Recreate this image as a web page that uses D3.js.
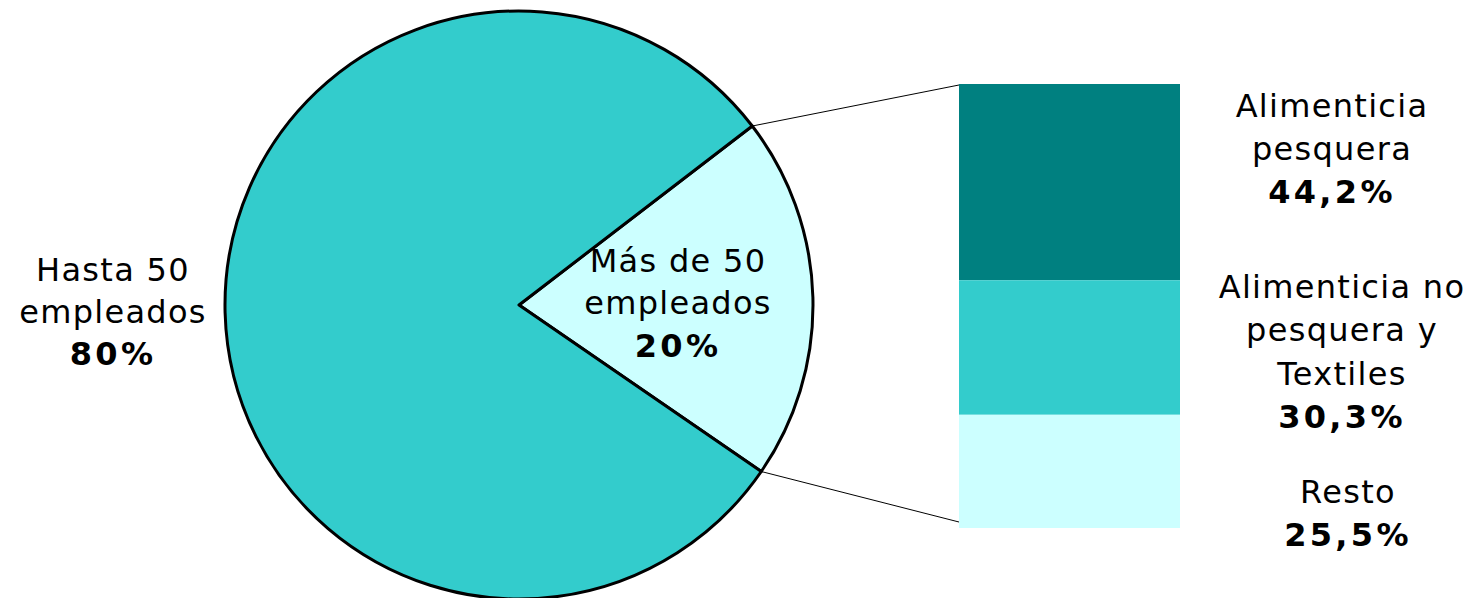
<!DOCTYPE html>
<html>
<head>
<meta charset="utf-8">
<style>
  html, body { margin: 0; padding: 0; background: #fff; }
  svg text { font-family: "DejaVu Sans", Verdana, sans-serif; font-size: 32px; letter-spacing: 1.3px; fill: #000; }
</style>
</head>
<body>
<svg width="1468" height="598"></svg>
<script src="https://d3js.org/d3.v7.min.js"></script>
<script>

    // pie: companies by size
    var pieNames = ["Más de 50 empleados", "Hasta 50 empleados"];
    var pieValues = [20, 80];
    var pieLabels = [["Más de 50", "empleados", "20%"], ["Hasta 50", "empleados", "80%"]];

    // bar: breakdown of the "Más de 50" slice
    var barNames = ["Alimenticia pesquera", "Alimenticia no pesquera y Textiles", "Resto"];
    var barValues = [44.2, 30.3, 25.5];
    var barLabels = [["Alimenticia", "pesquera", "44,2%"], ["Alimenticia no", "pesquera y", "Textiles", "30,3%"], ["Resto", "25,5%"]];

    var pieColors = ["#CCFFFF", "#33CCCC"];
    var barColors = ["#008080", "#33CCCC", "#CCFFFF"];

    var svg = d3.select("svg");

    var cx = 519, cy = 305, radius = 294;
    var a0 = 52.5 * Math.PI / 180;

    var pie = d3.pie()
        .sort(null)
        .startAngle(a0)
        .endAngle(a0 + 2 * Math.PI);

    var arc = d3.arc().innerRadius(0).outerRadius(radius);

    var arcs = pie(pieValues);

    var g = svg.append("g").attr("transform", "translate(" + cx + "," + cy + ")");

    g.selectAll("path")
        .data(arcs)
        .enter().append("path")
        .attr("d", arc)
        .attr("fill", function(d, i) { return pieColors[i]; })
        .attr("stroke", "#000")
        .attr("stroke-width", 3)
        .attr("stroke-linejoin", "round");

    // stacked bar
    var barX = 959, barW = 221;
    var total = d3.sum(barValues);
    var y = d3.scaleLinear().domain([0, total]).range([84, 528]);
    var cum = 0;
    var stack = barValues.map(function(v) { var s = cum; cum += v; return [s, cum]; });

    svg.selectAll("rect.seg")
        .data(stack)
        .enter().append("rect")
        .attr("class", "seg")
        .attr("x", barX)
        .attr("width", barW)
        .attr("y", function(d) { return y(d[0]); })
        .attr("height", function(d) { return y(d[1]) - y(d[0]); })
        .attr("fill", function(d, i) { return barColors[i]; });

    // connector lines from the small slice edges to the bar
    var small = arcs[0];
    function edge(a) { return [cx + radius * Math.sin(a), cy - radius * Math.cos(a)]; }
    var p1 = edge(small.startAngle), p2 = edge(small.endAngle);
    svg.append("line")
        .attr("x1", p1[0]).attr("y1", p1[1])
        .attr("x2", barX).attr("y2", y(0) + 1)
        .attr("stroke", "#000").attr("stroke-width", 1);
    svg.append("line")
        .attr("x1", p2[0]).attr("y1", p2[1])
        .attr("x2", barX).attr("y2", y(total) - 6)
        .attr("stroke", "#000").attr("stroke-width", 1);

    // labels
    function label(lines, x, baselines) {
        var t = svg.append("text").attr("text-anchor", "middle");
        t.selectAll("tspan")
            .data(lines)
            .enter().append("tspan")
            .attr("x", x)
            .attr("y", function(d, i) { return baselines[i]; })
            .style("font-weight", function(d, i) { return i === lines.length - 1 ? "bold" : "normal"; })
            .style("letter-spacing", function(d, i) { return i === lines.length - 1 ? "3.3px" : null; })
            .text(function(d) { return d; });
    }

    label(pieLabels[1], 113, [281, 323, 365]);
    label(pieLabels[0], 678, [272, 314, 357]);
    label(barLabels[0], 1332, [117, 160, 203]);
    label(barLabels[1], 1342, [298, 341, 385, 428]);
    label(barLabels[2], 1348, [503, 546]);

</script>
</body>
</html>
